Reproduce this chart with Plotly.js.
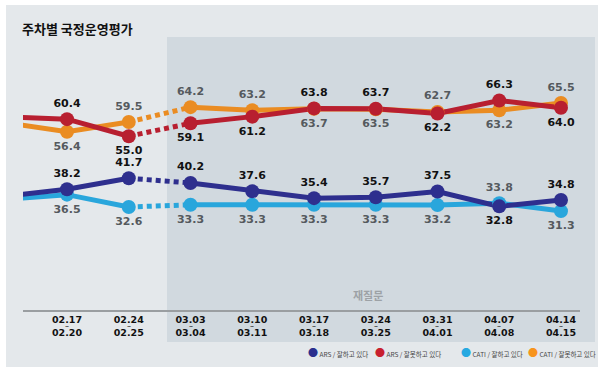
<!DOCTYPE html>
<html><head><meta charset="utf-8">
<script src="https://cdn.plot.ly/plotly-3.0.1.min.js"></script>
<style>html,body{margin:0;padding:0;background:#fff}#chart{width:600px;height:372px}</style>
</head><body><div id="chart"></div>
<script>
// ---- data ----
const weekStart = ["02.17","02.24","03.03","03.10","03.17","03.24","03.31","04.07","04.14"];
const weekEnd   = ["02.20","02.25","03.04","03.11","03.18","03.25","04.01","04.08","04.15"];
const arsGood  = [38.2, 41.7, 40.2, 37.6, 35.4, 35.7, 37.5, 32.8, 34.8];
const arsBad   = [60.4, 55.0, 59.1, 61.2, 63.8, 63.7, 62.2, 66.3, 64.0];
const catiGood = [36.5, 32.6, 33.3, 33.3, 33.3, 33.3, 33.2, 33.8, 31.3];
const catiBad  = [56.4, 59.5, 64.2, 63.2, 63.7, 63.5, 62.7, 63.2, 65.5];
// previous week (off-chart, only the line stub is visible)
const prevValues = {arsGood: 36.0, arsBad: 61.1, catiGood: 35.0, catiBad: 59.3};
const seriesNames = ["ARS / 잘하고 있다","ARS / 잘못하고 있다","CATI / 잘하고 있다","CATI / 잘못하고 있다"];
const retestLabel = "재질문";
const chartTitle = "주차별 국정운영평가";

// ---- styles ----
const colors = {arsGood:"#2e2f8e", arsBad:"#b81f30", catiGood:"#29a6dc", catiBad:"#ea8c22"};
const legendColors = ["#2b2f8e","#c8202f","#27a9e1","#f7941d"];
const labelColors = {arsGood:"#111111", arsBad:"#111111", catiGood:"#555a5e", catiBad:"#555a5e"};
const T="top center", B="bottom center";
const positions = {
  arsGood: [T,T,T,T,T,T,T,B,T],
  arsBad:  [T,B,B,B,T,T,B,T,B],
  catiGood:[B,B,B,B,B,B,B,T,B],
  catiBad: [B,T,T,T,B,B,T,B,T]
};
const seriesData = {arsGood, arsBad, catiGood, catiBad};
const breakIdx = 1; // dotted between index 1 and 2

const idx = weekStart.map((_, i) => i);
const traces = [];
const order = ["catiGood","arsGood","catiBad","arsBad"];
order.forEach(k => {
  const v = seriesData[k];
  const xs = [-1].concat(idx.slice(0, breakIdx+1), [null], idx.slice(breakIdx+1));
  const ys = [prevValues[k]].concat(v.slice(0, breakIdx+1), [null], v.slice(breakIdx+1));
  traces.push({x: xs, y: ys, mode:"lines", line:{color:colors[k], width:5}, showlegend:false, hoverinfo:"skip"});
  traces.push({x: [idx[breakIdx], idx[breakIdx+1]], y:[v[breakIdx], v[breakIdx+1]], mode:"lines",
    line:{color:colors[k], width:5, dash:"5px,4px"}, showlegend:false, hoverinfo:"skip"});
});
order.forEach(k => {
  const v = seriesData[k];
  traces.push({x: idx, y: v, mode:"markers+text", text: v.map(n => n.toFixed(1)),
    textposition: positions[k],
    textfont:{family:"DejaVu Sans", size:11, color:labelColors[k], weight:"bold"},
    marker:{color:colors[k], size:14}, showlegend:false, hoverinfo:"skip", cliponaxis:false});
});

// plot area geometry (paper coords)
const plotL = 23, plotR = 580, plotT = 37, plotB = 310;
const pw = plotR - plotL, ph = plotB - plotT;
const px = x => (x - plotL) / pw;
const py = y => (plotB - y) / ph;

const annotations = [];
idx.forEach(i => annotations.push({x: i, xref:"x", y: py(325.5), yref:"paper", text:"~", showarrow:false,
  font:{family:"DejaVu Sans", size:5, color:"#111", weight:"bold"}, borderpad:0, xanchor:"center", yanchor:"middle"}));
annotations.push({x: px(368), y: py(295), xref:"paper", yref:"paper", text: retestLabel, showarrow:false,
  font:{family:"Noto Sans CJK KR", size:11, color:"#9da2a6", weight:"bold"}, xanchor:"center", yanchor:"middle"});
const legendX = [306, 373, 459, 526];
seriesNames.forEach((n, i) => annotations.push({x: px(legendX[i]), y: py(353), xref:"paper", yref:"paper",
  text: `<span style="color:${legendColors[i]};font-size:10px">●</span> ${n}`, showarrow:false,
  font:{family:"Noto Sans CJK KR", size:6.5, color:"#444"}, xanchor:"left", yanchor:"middle"}));

const shapes = [
  {type:"rect", xref:"paper", yref:"paper", x0:px(6), x1:px(598), y0:py(367), y1:py(5), fillcolor:"#e4e8eb", line:{width:0}, layer:"below"},
  {type:"rect", xref:"paper", yref:"paper", x0:px(167), x1:px(595), y0:py(342), y1:py(37), fillcolor:"#d1d9df", line:{width:0}, layer:"below"}
];

const layout = {
  width:600, height:372,
  margin:{l:plotL, r:600-plotR, t:plotT, b:372-plotB},
  paper_bgcolor:"#ffffff", plot_bgcolor:"rgba(0,0,0,0)",
  title:{text: chartTitle, x: 22/600, xanchor:"left", xref:"container", y: 1-29/372, yref:"container", yanchor:"middle",
    font:{family:"Noto Sans CJK KR", size:13, color:"#111", weight:"bold"}},
  xaxis:{range:[-0.713, 8.308], showgrid:false, zeroline:false, showline:true, linecolor:"#9a9ea1", linewidth:2,
    tickmode:"array", tickvals: idx, ticktext: weekStart.map((s, i) => s + "<br>" + weekEnd[i]),
    tickfont:{family:"DejaVu Sans", size:9.5, color:"#111", weight:"bold"}, ticks:"", fixedrange:true},
  yaxis:{range:[0, 86.4], visible:false, fixedrange:true},
  showlegend:false, hovermode:false, shapes, annotations
};
Plotly.newPlot("chart", traces, layout, {displayModeBar:false, staticPlot:true});
</script></body></html>
